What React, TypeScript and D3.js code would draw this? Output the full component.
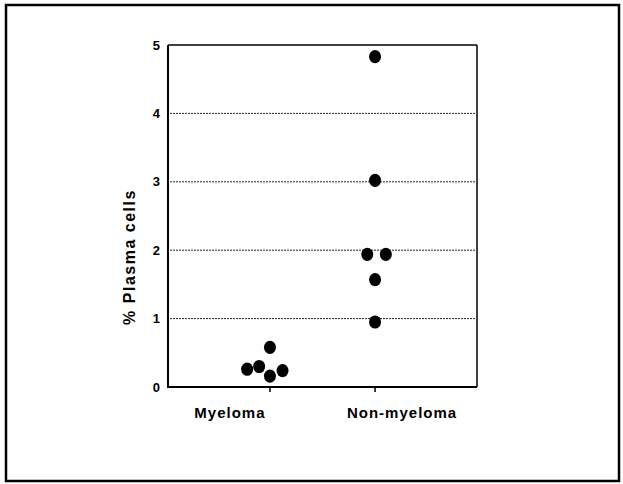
import * as d3 from 'd3'

const categories = ['Myeloma', 'Non-myeloma']
const myelomaValues = [0.58, 0.26, 0.3, 0.16, 0.24]
const myelomaOffsets = [0, -1.9, -0.9, 0, 1.05]
const nonMyelomaValues = [4.83, 3.02, 1.94, 1.94, 1.57, 0.95]
const nonMyelomaOffsets = [0, 0, -0.65, 0.9, 0, 0]
const yTicks = [0, 1, 2, 3, 4, 5]
const gridTicks = [1, 2, 3, 4]
// label centres sit a little off their ticks in the original
const labelShift = [-40, 27]

const W = 623
const H = 484
const plot = { left: 168, right: 477, top: 45, bottom: 387 }
const DOT = 12

export default function App() {
  const x = d3.scalePoint<string>().domain(categories).range([plot.left, plot.right]).padding(0.97)
  const y = d3.scaleLinear().domain([0, 5]).range([plot.bottom, plot.top])

  const points = [
    ...myelomaValues.map((v, i) => ({ cat: 'Myeloma', v, off: myelomaOffsets[i] })),
    ...nonMyelomaValues.map((v, i) => ({ cat: 'Non-myeloma', v, off: nonMyelomaOffsets[i] })),
  ]

  const font = 'Liberation Sans, Arial, sans-serif'

  return (
    <svg width={W} height={H} style={{ position: 'absolute', left: 0, top: 0 }}>
      <rect x={0} y={0} width={W} height={H} fill="#fff" />
      {/* outer frame */}
      <rect x={6} y={5} width={613} height={476} fill="none" stroke="#000" strokeWidth={2.5} />

      {/* grid lines */}
      {gridTicks.map((t) => (
        <line
          key={t}
          x1={plot.left + 2}
          x2={plot.right - 2}
          y1={y(t)}
          y2={y(t)}
          stroke="#222"
          strokeWidth={1}
          strokeDasharray="2,1"
        />
      ))}

      {/* plot box */}
      <line x1={plot.left} x2={plot.right} y1={plot.top} y2={plot.top} stroke="#000" strokeWidth={1.5} />
      <line x1={plot.right} x2={plot.right} y1={plot.top} y2={plot.bottom} stroke="#000" strokeWidth={1.5} />
      <line x1={plot.left} x2={plot.left} y1={plot.top} y2={plot.bottom + 1} stroke="#000" strokeWidth={2} />
      <line x1={plot.left} x2={plot.right} y1={plot.bottom} y2={plot.bottom} stroke="#000" strokeWidth={2} />

      {/* category ticks */}
      {categories.map((c) => (
        <line key={c} x1={x(c)} x2={x(c)} y1={plot.bottom} y2={plot.bottom + 5} stroke="#000" strokeWidth={1.5} />
      ))}

      {/* y tick labels */}
      {yTicks.map((t) => (
        <text
          key={t}
          x={plot.left - 8}
          y={y(t)}
          dy="0.36em"
          textAnchor="end"
          fontFamily={font}
          fontWeight="bold"
          fontSize={13}
        >
          {t}
        </text>
      ))}

      {/* category labels */}
      {categories.map((c, i) => (
        <text
          key={c}
          x={(x(c) as number) + labelShift[i]}
          y={418}
          textAnchor="middle"
          fontFamily={font}
          fontWeight="bold"
          fontSize={15}
          letterSpacing={1}
        >
          {c}
        </text>
      ))}

      {/* y axis title */}
      <text
        transform={`translate(135,257) rotate(-90)`}
        textAnchor="middle"
        fontFamily={font}
        fontWeight="bold"
        fontSize={16}
        letterSpacing={1.5}
      >
        % Plasma cells
      </text>

      {/* dots */}
      {points.map((p, i) => (
        <ellipse
          key={i}
          cx={(x(p.cat) as number) + p.off * DOT}
          cy={y(p.v)}
          rx={DOT / 2}
          ry={DOT / 2 + 0.6}
          fill="#000"
        />
      ))}
    </svg>
  )
}
